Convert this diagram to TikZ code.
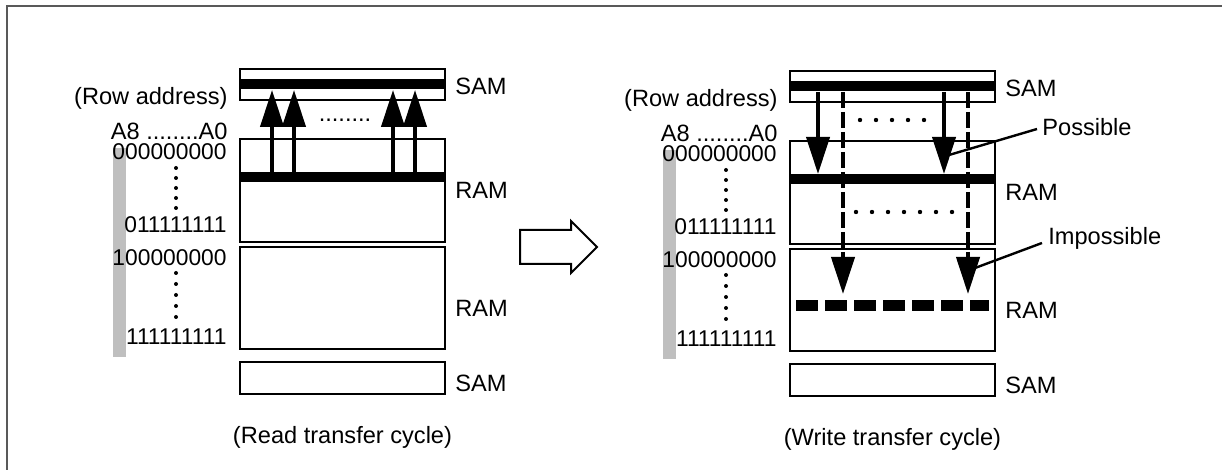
\documentclass[tikz,border=0pt]{standalone}
\usepackage{fontspec}
\setmainfont{Liberation Sans}
\usetikzlibrary{arrows.meta,positioning}

\begin{document}
\begin{tikzpicture}[x=0.5pt,y=-0.5pt,>={Triangle[width=11.5pt,length=18.5pt]},
                    every node/.style={font=\fontsize{11.8}{14}\selectfont,inner sep=0pt},
                    mem/.style={draw,line width=1pt,minimum width=102.5pt},
                    bar/.style={fill,minimum width=103.5pt,minimum height=5pt},
                    addr/.style={anchor=east,font=\fontsize{11.4}{14}\selectfont},
                    xfer/.style={->,line width=2pt},
                    lead/.style={line width=1.2pt}]

  \useasboundingbox (0,0) rectangle (1222,470);
  \draw[black!65,line width=1pt] (6.5,470) -- (6.5,6.5) -- (1222,6.5);

  % the two panels
  \foreach \p/\dx/\dy/\w in {L/0/0/Read,R/550/2/Write} {
    \node[mem,minimum height=15.5pt] (S\p) at (342.5+\dx,84.5+\dy) {};
    \node[mem,minimum height=51.5pt,below=18.5pt of S\p] (A\p) {};
    \node[mem,minimum height=51pt,below=1.5pt of A\p]     (B\p) {};
    \node[mem,minimum height=16pt,below=5.5pt of B\p]     (C\p) {};
    \node[bar] (t\p) at (S\p) {};
    \node[bar,below=17pt of A\p.north] (r\p) {};

    \node[right=4.5pt of S\p,yshift=-1pt]   (s1\p) {SAM};
    \node[right=4.5pt of A\p]               (m1\p) {RAM};
    \node[right=4.5pt of B\p,yshift=-5pt]   (m2\p) {RAM};
    \node[right=4.5pt of C\p,yshift=-2.5pt] (s2\p) {SAM};

    \fill[black!25] (112.5+\dx,148+\dy) rectangle (125.5+\dx,357+\dy);
    \node[anchor=east] (row\p) at (228+\dx,98+\dy)  {(Row address)};
    \node[anchor=east] (adr\p) at (228+\dx,131+\dy) {A8 ........A0};
    \node[addr] (a0\p) at (227+\dx,152+\dy) {000000000};
    \node[addr] (a1\p) at (227+\dx,225+\dy) {011111111};
    \node[addr] (a2\p) at (227+\dx,258+\dy) {100000000};
    \node[addr] (a3\p) at (227+\dx,337+\dy) {111111111};
    \foreach \k in {0,...,4} {
      \fill (176+\dx,168+10*\k+\dy) circle[radius=1pt];
      \fill (176+\dx,273+11*\k+\dy) circle[radius=1pt];
    }
    \node (cap\p) at (342.5+\dx,437+\dy) {(\w\ transfer cycle)};
  }

  % read transfer
  \foreach \x in {272,294,393,415}
    \draw[xfer] (\x,0 |- rL.north) -- (\x,0 |- tL.south);
  \node (dotsL) at (345,120) {........};

  % write transfer
  \coordinate (iR) at (0,294);
  \foreach \x in {818,944}
    \draw[xfer] (\x,0 |- tR.south) -- (\x,0 |- rR.north);
  \foreach \x in {843,968}
    \draw[xfer,dash pattern=on 8pt off 2pt] (\x,0 |- tR.south) -- (\x,0 |- iR);
  \draw[line width=5.5pt,dash pattern=on 11pt off 3.5pt] (796,305.5) -- (989,305.5);
  \foreach \k in {0,...,4} \fill (860+16*\k,120) circle[radius=1.1pt];
  \foreach \k in {0,...,6} \fill (856+16*\k,212) circle[radius=1.1pt];

  \node[anchor=west] (pos) at (1042,127) {Possible};
  \node[anchor=west] (imp) at (1048,238) {Impossible};
  \coordinate (hP) at (949,155);
  \coordinate (hI) at (975,268);
  \draw[lead] ([xshift=-2.5pt,yshift=-1pt]pos.west) -- (hP);
  \draw[lead] ([xshift=-3pt,yshift=-2.5pt]imp.west) -- (hI);

  % big hollow arrow
  \draw[line width=1pt] (520,230) -- (571,230) -- (571,221) -- (597,247)
        -- (571,273) -- (571,264) -- (520,264) -- cycle;
\end{tikzpicture}
\end{document}
